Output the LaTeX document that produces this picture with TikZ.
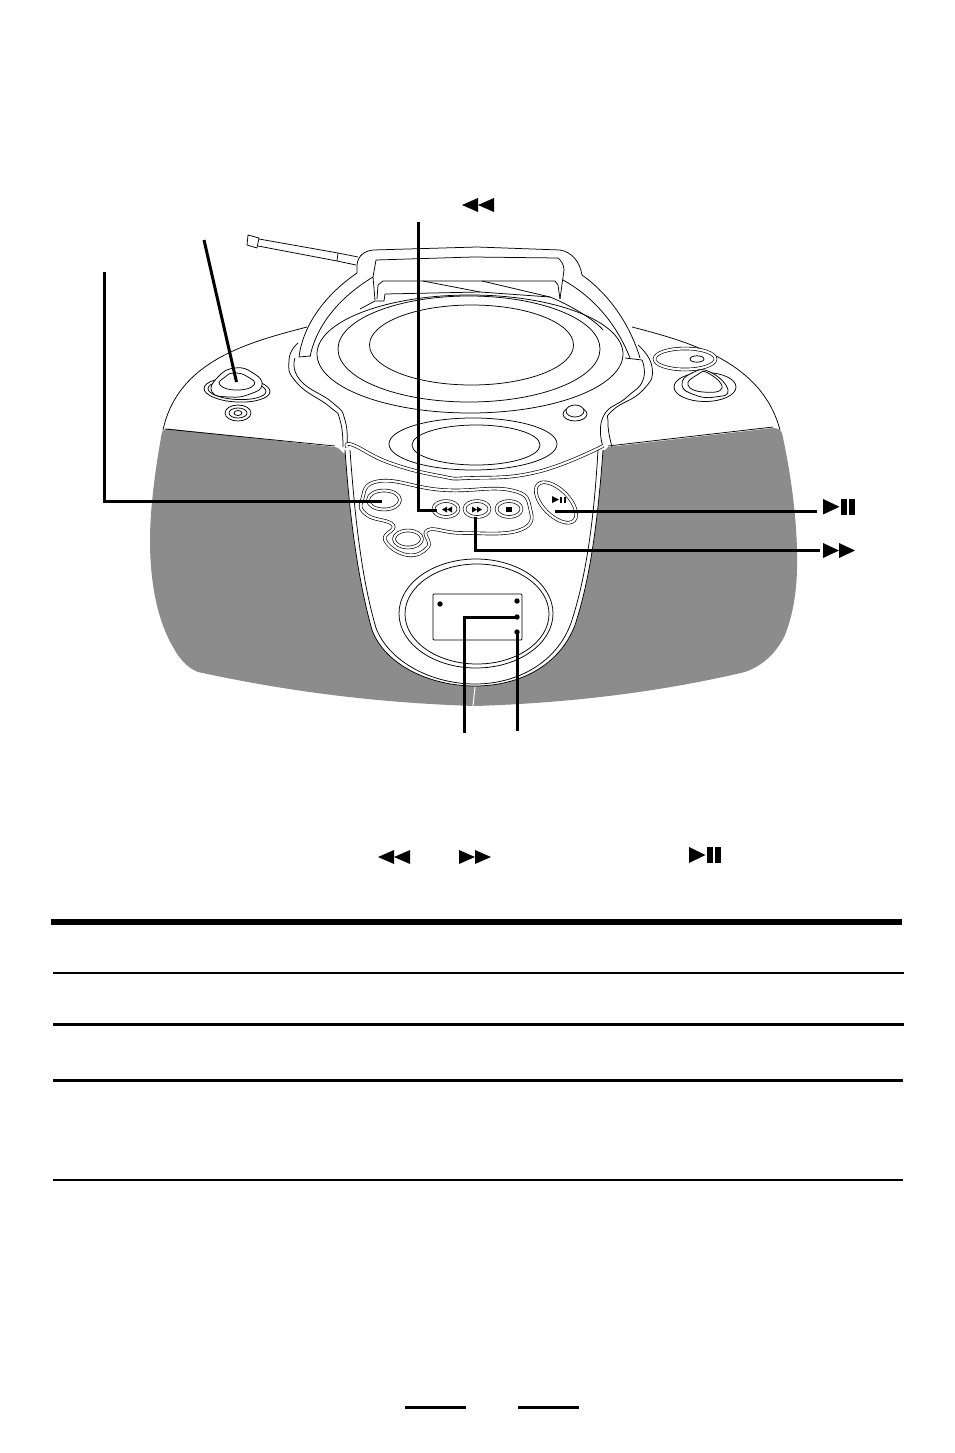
\documentclass[tikz,border=0pt]{standalone}
\definecolor{spk}{HTML}{8C8C8C}
\tikzset{
 thin line/.style={draw=black,line width=0.75pt,line join=round},
 dbl/.style={draw=black,line width=0.65pt,double=white,double distance=2.2pt,line join=round},
 leader/.style={draw=black,line width=3pt,line join=miter},
 rule/.style={draw=black},
 icon/.style={fill=black,draw=none},
}
\newcommand{\rewicon}[3]{% x y h
 \fill[icon] (#1+16,#2) -- (#1,#2+#3/2) -- (#1+16,#2+#3) -- cycle;
 \fill[icon] (#1+32,#2) -- (#1+16,#2+#3/2) -- (#1+32,#2+#3) -- cycle;}
\newcommand{\ffdicon}[3]{%
 \fill[icon] (#1,#2) -- (#1+16,#2+#3/2) -- (#1,#2+#3) -- cycle;
 \fill[icon] (#1+16,#2) -- (#1+32,#2+#3/2) -- (#1+16,#2+#3) -- cycle;}
\newcommand{\ppicon}[3]{%
 \fill[icon] (#1,#2) -- (#1+16.5,#2+#3/2) -- (#1,#2+#3) -- cycle;
 \fill[icon] (#1+18,#2) rectangle (#1+24,#2+#3);
 \fill[icon] (#1+26,#2) rectangle (#1+32,#2+#3);}
\begin{document}
\begin{tikzpicture}[x=1pt,y=-1pt]
\useasboundingbox (0,0) rectangle (954,1453);
% speakers (gray U)
\fill[spk] (162,432) .. controls (155,470) and (150,510) .. (150,540)
 .. controls (150,590) and (160,625) .. (173,647)
 .. controls (180,660) and (188,668) .. (198,672)
 .. controls (290,692) and (380,703) .. (475,706)
 .. controls (570,703) and (660,692) .. (745,672)
 .. controls (765,665) and (778,650) .. (785,635)
 .. controls (795,610) and (798,580) .. (797,550)
 .. controls (796,510) and (790,470) .. (782,433)
 .. controls (780,429) and (776,428) .. (773,428)
 -- (608,447) -- (605,450) -- (343,453) -- (338,448) -- (335,447) -- (172,429)
 .. controls (167,428) and (164,429) .. (162,432) -- cycle;
% front panel
\fill[white] (345,450) .. controls (350,520) and (358,580) .. (372,630)
 .. controls (385,665) and (430,686) .. (475,686)
 .. controls (520,686) and (560,665) .. (575,625)
 .. controls (590,580) and (598,520) .. (603,450) -- (603,440) -- (345,440) -- cycle;
\draw[thin line] (345,450) .. controls (350,520) and (358,580) .. (372,630)
 .. controls (385,665) and (430,686) .. (475,686)
 .. controls (520,686) and (560,665) .. (575,625)
 .. controls (590,580) and (598,520) .. (603,450);
\draw[thin line] (350,450) .. controls (355,520) and (362,580) .. (376,628)
 .. controls (389,662) and (432,684) .. (475,684)
 .. controls (518,684) and (557,662) .. (571,623)
 .. controls (586,578) and (594,520) .. (598,450);
\draw[white,line width=1pt] (475,687) -- (473,706);
% body top arcs
\draw[thin line] (307,327) .. controls (250,342) and (178,360) .. (163,430);
\draw[thin line] (632,327) .. controls (690,342) and (762,362) .. (780,430);
\draw[thin line] (165,429) -- (335,446);
\draw[thin line] (608,446) -- (773,427);
% side contours
\draw[thin line] plot[smooth,tension=0.9] coordinates {(298,343)(289,360)(297,383)(330,407)(340,420)(343,447)};
\draw[thin line] plot[smooth,tension=0.9] coordinates {(295,358)(300,380)(333,403)(345,420)(347,447)};
\draw[thin line] plot[smooth,tension=0.9] coordinates {(638,345)(652,367)(643,390)(613,410)(608,423)(612,447)};
\draw[thin line] plot[smooth,tension=0.9] coordinates {(642,360)(643,380)(627,397)(603,417)(603,447)};
% panel upper edge
\draw[dbl] plot[smooth,tension=0.8] coordinates {(347,447)(353,445)(390,463)(440,476)(470,478)(537,472)(603,446)};
% display oval
\draw[thin line] (473,444) ellipse [x radius=84,y radius=26];
\draw[thin line] (476,445) ellipse [x radius=64,y radius=20];
% CD lid
\draw[thin line] (470,354) ellipse [x radius=153,y radius=59];
\draw[thin line] (469,349) ellipse [x radius=131,y radius=53];
\draw[thin line] (471.5,345) ellipse [x radius=102,y radius=40];
% antenna
\draw[thin line,fill=white] (248,235) -- (259,238) -- (257,248) -- (247,245) -- cycle;
\draw[thin line] (259,239) -- (338,253) -- (358,257);
\draw[thin line] (258,246) -- (337,261) -- (356,265);
\draw[thin line] (338,253) -- (337,261);
% handle
\draw[thin line] (299,357) .. controls (303,325) and (325,295) .. (357,273);
\draw[thin line] (357,273) -- (357,265) .. controls (358,255) and (365,251) .. (373,250) -- (477,247) -- (560,250) .. controls (572,252) and (580,262) .. (582,275);
\draw[thin line] (582,275) .. controls (610,295) and (630,325) .. (640,358);
\draw[thin line] (310,357) .. controls (315,330) and (335,300) .. (373,277);
\draw[thin line] (375,300) -- (373,277) -- (376,260) -- (473,257) -- (558,258) .. controls (561,260) and (564,265) .. (564,270) -- (560,299);
\draw[thin line] (377,299) -- (378,285) -- (383,281) -- (555,281) -- (558,285) -- (560,299);
\draw[thin line] (423,281) -- (480,292);
\draw[thin line] (482,281) -- (550,297);
\draw[thin line] (360,309) -- (375,301) -- (384,301) -- (385,294) -- (480,292) -- (550,297) .. controls (570,305) and (595,320) .. (603,330);
\draw[thin line] (299,357) -- (310,356);
\draw[thin line] (625,358) -- (642,360);
\draw[thin line] (563,280) .. controls (590,295) and (615,320) .. (630,358);
% left controls
\draw[thin line,rotate around={-3:(237,390)}] (237,390) ellipse [x radius=33,y radius=12];
\draw[thin line,rotate around={-3:(237,390)}] (237,390) ellipse [x radius=29,y radius=9.5];
\path[fill=white,thin line] plot[smooth cycle,tension=0.9] coordinates {(212,392)(218,377)(235,368)(253,373)(262,385)(250,394)(230,397)};
\draw[thin line] plot[smooth cycle,tension=0.9] coordinates {(220,385)(225,377)(235,373)(248,377)(254,385)(237,390)};
\draw[thin line] (238,413) ellipse [x radius=13,y radius=8];
\draw[thin line] (238,413) ellipse [x radius=9,y radius=5];
\draw[thin line] (238,413) ellipse [x radius=4,y radius=2.5];
% right controls
\draw[dbl] (685,359) ellipse [x radius=30.5,y radius=10.5];
\draw[thin line] (697,359) ellipse [x radius=7,y radius=3.2];
\draw[thin line] (705,387) ellipse [x radius=31,y radius=14.5];
\path[fill=white,thin line] plot[smooth cycle,tension=0.9] coordinates {(682,385)(692,373)(710,372)(728,390)(715,397)(695,395)};
\draw[thin line] plot[smooth cycle,tension=0.9] coordinates {(688,385)(697,375)(708,373)(722,388)(703,392)};
\draw[thin line] (575,414) ellipse [x radius=12,y radius=7];
\path[fill=white,thin line] (575,411) ellipse [x radius=9,y radius=6];
% button strip
\draw[dbl,fill=white] plot[smooth cycle,tension=0.8] coordinates {(362,500)(380,481)(443,490)(510,490)(530,508)(520,530)(463,533)(428,530)(428,547)(407,555)(385,540)(393,525)(367,515)};
\draw[dbl] (384,500) ellipse [x radius=16,y radius=9.5];
\draw[dbl] (408,539) ellipse [x radius=14,y radius=8.5];
\draw[dbl] (446,509) ellipse [x radius=12.5,y radius=8];
\draw[dbl] (477,509) ellipse [x radius=12.5,y radius=8];
\draw[dbl] (509,509) ellipse [x radius=12.5,y radius=8];
\draw[dbl,rotate around={-45:(556,502.5)}] (556,502.5) ellipse [x radius=25.5,y radius=13];
% small icons
\fill[icon] (447,506.5) -- (442,509.5) -- (447,512.5) -- cycle;
\fill[icon] (452,506.5) -- (447,509.5) -- (452,512.5) -- cycle;
\fill[icon] (472,506.5) -- (477,509.5) -- (472,512.5) -- cycle;
\fill[icon] (477,506.5) -- (482,509.5) -- (477,512.5) -- cycle;
\fill[icon] (506,507) rectangle (511.5,512);
\fill[icon] (552,496) -- (559,499.5) -- (552,503) -- cycle;
\fill[icon] (560,497) rectangle (562,503);
\fill[icon] (563.5,497) rectangle (565.5,503);
% lower display
\draw[thin line] (476,613.5) ellipse [x radius=77,y radius=54.5];
\draw[thin line] (477,614) ellipse [x radius=72,y radius=50];
\draw[thin line,rounded corners=1pt] (433,594) rectangle (522,640);
\fill (440,604) circle (2.7);
\fill (517,601) circle (2.7);
\fill (517,617) circle (2.7);
\fill (517,632) circle (2.7);
% leaders
\coordinate (l1a) at (204,240); \coordinate (l1b) at (236.5,382);
\coordinate (l2a) at (104,272); \coordinate (l2b) at (104,501); \coordinate (l2c) at (382,501);
\coordinate (l3a) at (418,222); \coordinate (l3b) at (418,510.5); \coordinate (l3c) at (437,510.5);
\coordinate (l4a) at (475,517); \coordinate (l4b) at (475,550); \coordinate (l4c) at (820,550);
\coordinate (l5a) at (555,511.5); \coordinate (l5b) at (817,511.5);
\coordinate (l6a) at (464,733); \coordinate (l6b) at (464,617); \coordinate (l6c) at (517,617);
\coordinate (l7a) at (517,731); \coordinate (l7b) at (517,632);
\draw[leader] (l1a) -- (l1b);
\draw[leader] (l2a) -- (l2b) -- (l2c);
\draw[leader] (l3a) -- (l3b) -- (l3c);
\draw[leader] (l4a) -- (l4b) -- (l4c);
\draw[leader] (l5a) -- (l5b);
\draw[leader] (l6a) -- (l6b) -- (l6c);
\draw[leader] (l7a) -- (l7b);
% big icons
\rewicon{462}{198}{14}
\ppicon{823}{499}{15.5}
\ffdicon{823}{543}{15}
\rewicon{378}{850}{14}
\ffdicon{459}{850}{14}
\ppicon{689}{847}{16}
% table rules
\draw[rule,line width=6pt] (51,922) -- (902,922);
\draw[rule,line width=2pt] (53,973) -- (904,973);
\draw[rule,line width=3pt] (53,1024) -- (904,1024);
\draw[rule,line width=3pt] (53,1080) -- (903,1080);
\draw[rule,line width=2pt] (53,1180) -- (903,1180);
\draw[rule,line width=3pt] (405,1407) -- (466,1407);
\draw[rule,line width=3pt] (518,1407) -- (579,1407);
\end{tikzpicture}
\end{document}
